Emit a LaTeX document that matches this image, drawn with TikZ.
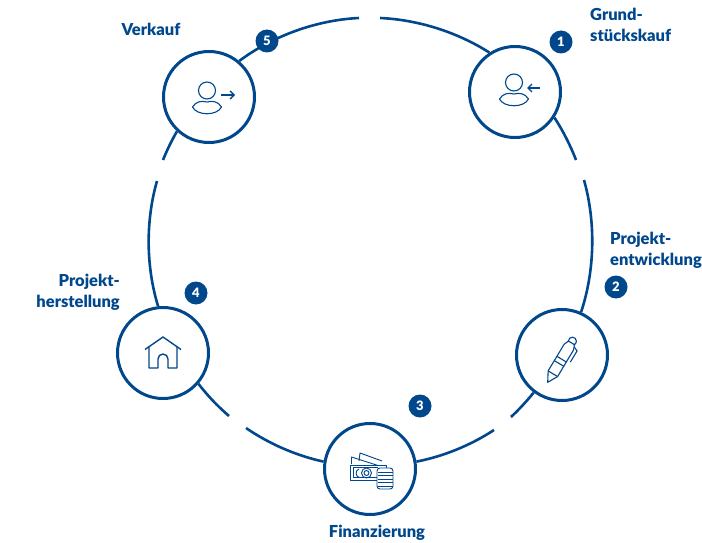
\documentclass[tikz,border=0pt]{standalone}
\usepackage{fontspec}
\setmainfont{Lato}[BoldFont={Lato Black}]
\usetikzlibrary{arrows.meta}
\definecolor{ringblue}{RGB}{0,71,140}
\tikzset{
  stage/.style={circle,draw=ringblue,line width=3pt,minimum size=91pt,inner sep=0pt},
  badge/.style={circle,fill=ringblue,text=white,minimum size=23pt,inner sep=0pt,font=\bfseries\fontsize{13}{13}\selectfont},
  caption/.style={text=ringblue,inner sep=0pt,font=\bfseries\fontsize{16.5}{21}\selectfont},
  ring/.style={draw=ringblue,line width=2.6pt,looseness=.85},
  icon/.style={draw=ringblue,line width=1.1pt,line join=round},
  pics/person/.style={code={
    \draw[icon] (0,8.5) circle (8.5);
    \draw[icon] (-14.5,-8) .. controls (-11,-2.5) and (-6,-1.5) .. (0,-3)
      .. controls (6,-1.5) and (11,-2.5) .. (14.5,-8)
      .. controls (10,-17) and (-10,-17) .. cycle;
  }}
}
\begin{document}
\begin{tikzpicture}[x=1pt,y=1pt]
  \useasboundingbox (0,0) rectangle (702,542);

  % free ends of the ring
  \coordinate (a1) at (380,524);
  \coordinate (b1) at (576,382);
  \coordinate (b2) at (584,362);
  \coordinate (c2) at (511,125);
  \coordinate (c3) at (494,112);
  \coordinate (d3) at (246,114);
  \coordinate (d4) at (229,126);
  \coordinate (e4) at (157,361);
  \coordinate (e5) at (163,382);
  \coordinate (a5) at (359,524);

  \node[stage] (n1) at (515,450) {};
  \node[stage] (n2) at (562,187) {};
  \node[stage] (n3) at (370,73) {};
  \node[stage] (n4) at (163,189) {};
  \node[stage] (n5) at (209,445) {};

  % ring, clockwise
  \foreach \from/\to/\bend in {a1/n1.123/15,n1.-33/b1/6,b2/n2.66/17,n2.233/c2/4,
    c3/n3.9/11,n3.171/d3/11,d4/n4.-41.5/6,n4.96/e4/16.5,e5/n5.227/4,n5.50/a5/17}
    \draw[ring] (\from) to[bend left=\bend] (\to);

  \node[badge] (s1) at (561,500) {1};
  \node[badge] (s2) at (616,255) {2};
  \node[badge] (s3) at (420,136) {3};
  \node[badge] (s4) at (196,249) {4};
  \node[badge] (s5) at (267,501) {5};

  \node[caption,align=left,anchor=west] (l1) at (590,517) {Grund-\\stückskauf};
  \node[caption,align=left,anchor=west] (l2) at (610,292) {Projekt-\\entwicklung};
  \node[caption] (l3) at (377,9) {Finanzierung};
  \node[caption,align=right,anchor=east] (l4) at (120,250) {Projekt-\\herstellung};
  \node[caption] (l5) at (151,513) {Verkauf};

  % person icons
  \pic at ([shift={(-1,1)}]n1.center) {person};
  \draw[icon,-{Straight Barb[length=4pt,width=8pt]},line width=1.3pt] ([shift={(25,4)}]n1.center) -- ([shift={(12,4)}]n1.center);
  \pic at ([shift={(-2,-2)}]n5.center) {person};
  \draw[icon,-{Straight Barb[length=4pt,width=8pt]},line width=1.3pt] ([shift={(12,2)}]n5.center) -- ([shift={(26,2)}]n5.center);

  % pen
  \begin{scope}[shift={(547.7,159.7)},rotate=59]
    \draw[icon] (0,0) -- (10,5.5) -- (41,5.5) -- (46,3.5) -- (46,-3.5) -- (41,-5.5) -- (10,-5.5) -- cycle;
    \draw[icon] (10,5.5) -- (10,-5.5) (22,5.5) -- (22,-5.5) (27,5.5) -- (27,-5.5);
    \draw[icon] (46,3.5) arc (120:-120:4);
    \draw[icon] (44,-4.5) -- (42,-9) -- (29,-9);
  \end{scope}

  % money
  \begin{scope}[shift={(n3.center)},icon/.append style={line width=.9pt}]
    \draw[icon] (-18.5,5) -- (-18.5,12) -- (8,3.5);
    \draw[icon] (-11,8) -- (-10,16) -- (12,8);
    \draw[icon] (16,-1) -- (16,4) -- (-20,4) -- (-20,-11) -- (7,-11);
    \draw[icon] (-17,1.5) -- (8,1.5);
    \draw[icon] (-17,1.5) -- (-17,-8.5) -- (7,-8.5);
    \draw[icon] (-3.5,-4) circle (5);
    \draw[icon] (-3.5,-4) circle (2.5);
    \draw[icon] (-11,0) arc (100:260:3.5 and 4.2);
    \draw[icon,fill=white,rounded corners=3pt] (7,1) rectangle (23,-20);
    \foreach \lay in {-3,-6.5,-10,-13.5,-17}
      \draw[icon] (7.5,\lay) -- (22.5,\lay);
  \end{scope}

  % house
  \begin{scope}[shift={(n4.center)}]
    \draw[icon,line width=1.4pt] (-18,3.5) -- (0,16) -- (18,3.5);
    \draw[icon,line width=1.4pt] (-14,6) -- (-14,-15) -- (-5,-15) -- (-5,-6) arc (180:0:5) -- (5,-15) -- (14,-15) -- (14,6);
  \end{scope}
\end{tikzpicture}
\end{document}
